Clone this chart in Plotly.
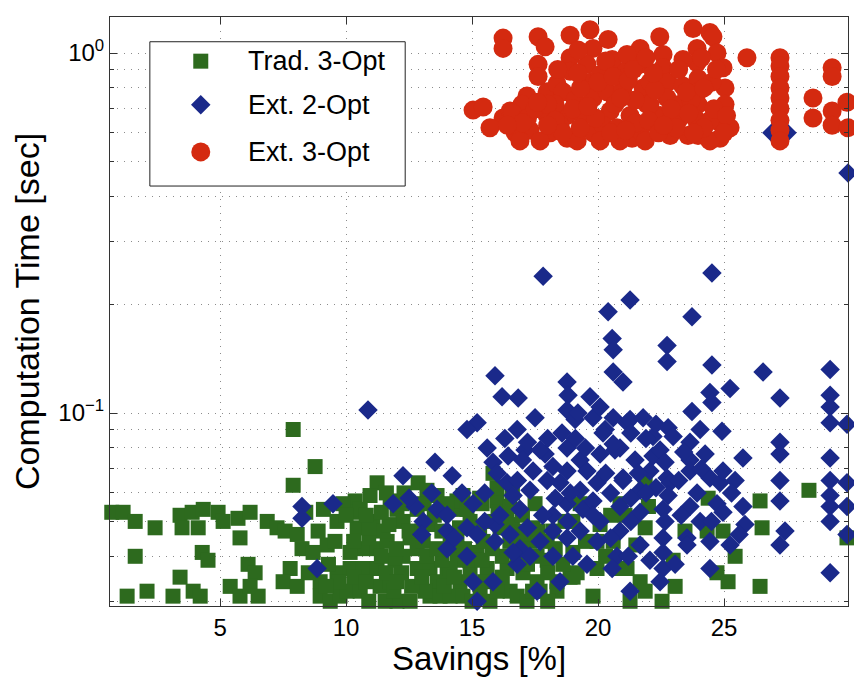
import plotly.graph_objects as go

# Savings [%] vs. computation time [sec] for three local-search variants

trad_x = [0.7, 1.15, 1.63, 2.42, 1.63, 1.31, 2.10, 3.13, 3.41, 3.41, 3.49, 3.89, 4.33, 4.13, 4.29,
          4.52, 3.93, 4.21, 4.92, 5.12, 5.71, 5.79, 6.19, 6.11, 6.39, 5.40, 5.79, 6.19, 6.51, 6.87,
          7.26, 7.58, 7.90, 7.90, 8.77, 7.78, 7.50, 8.06, 8.06, 8.25, 8.69, 9.25, 9.56, 8.89, 9.64,
          8.97, 8.97, 9.37, 9.76, 9.64, 11.23, 12.86, 13.21, 13.61, 10.36, 10.36, 10.44, 10.67, 11.23,
          11.63, 11.07, 11.47, 12.02, 12.26, 10.16, 10.67, 11.23, 10.04, 10.56, 11.35, 11.75, 12.02,
          12.54, 12.26, 12.82, 12.82, 12.54, 13.06, 13.33, 13.61, 13.33, 13.73, 14.13, 14.40, 14.40,
          14.40, 14.64, 14.52, 14.01, 14.52, 14.64, 15.32, 15.99, 16.03, 16.11, 15.20, 15.60, 16.39,
          16.51, 16.79, 17.30, 17.58, 17.58, 16.79, 15.83, 15.99, 16.39, 18.37, 18.37, 17.98, 10.56,
          14.40, 14.13, 14.13, 16.90, 17.42, 19.96, 20.60, 19.96, 20.75, 19.80, 18.89, 19.17, 9.88,
          10.95, 11.75, 12.82, 13.33, 13.85, 14.92, 15.44, 14.92, 15.71, 17.18, 17.70, 17.02, 17.98,
          11.94, 11.55, 10.16, 13.13, 21.87, 20.87, 21.07, 21.87, 26.43, 26.51, 28.37, 29.88, 23.45,
          24.37, 24.33, 24.96, 25.44, 24.72, 25.16, 26.43, 21.15, 21.67, 21.87, 21.27, 22.54, 23.06,
          22.98, 19.96, 19.01, 19.29, 20.08, 18.69, 9.70,
          10.9, 11.9, 12.6, 13.0, 13.9, 14.3, 15.0, 15.5, 16.0, 16.2, 17.4, 18.0, 18.0,
          10.3, 10.8, 11.6, 12.2, 12.0, 13.8, 13.2, 14.9, 15.4, 16.2, 16.8, 17.2, 18.6,
          10.3, 10.9, 11.4, 12.0, 13.6, 14.7, 15.8, 16.5, 17.0, 18.3, 19.0,
          10.9, 11.7, 12.5, 13.0, 13.8, 14.5, 15.3, 15.7, 16.6, 17.6, 18.2,
          10.0, 10.8, 11.4, 12.2, 13.1, 13.5, 14.0, 14.8, 15.4, 16.5, 17.0,
          11.6, 12.3, 15.3, 16.6, 17.5, 8.4, 9.1, 9.3, 8.5, 9.2,
          19.5, 20.3, 21.5, 22.0, 20.5, 19.0]
trad_y = [0.053, 0.053, 0.050, 0.048, 0.040, 0.031, 0.032, 0.031, 0.035, 0.052, 0.048, 0.053, 0.054,
          0.048, 0.041, 0.039, 0.032, 0.031, 0.053, 0.050, 0.051, 0.045, 0.053, 0.038, 0.036, 0.033,
          0.031, 0.033, 0.031, 0.050, 0.048, 0.047, 0.090, 0.063, 0.071, 0.037, 0.034, 0.033, 0.046,
          0.042, 0.041, 0.043, 0.044, 0.047, 0.050, 0.034, 0.031, 0.030, 0.031, 0.036, 0.064, 0.064,
          0.061, 0.059, 0.057, 0.053, 0.048, 0.042, 0.042, 0.044, 0.050, 0.047, 0.054, 0.050, 0.037,
          0.037, 0.037, 0.032, 0.032, 0.033, 0.034, 0.030, 0.030, 0.040, 0.042, 0.037, 0.045, 0.044,
          0.037, 0.034, 0.031, 0.031, 0.031, 0.044, 0.042, 0.039, 0.059, 0.054, 0.036, 0.034, 0.031,
          0.032, 0.057, 0.053, 0.048, 0.041, 0.037, 0.037, 0.032, 0.031, 0.044, 0.040, 0.034, 0.046,
          0.068, 0.062, 0.051, 0.034, 0.032, 0.044, 0.054, 0.057, 0.046, 0.037, 0.047, 0.048, 0.044,
          0.044, 0.037, 0.037, 0.031, 0.035, 0.036, 0.056, 0.059, 0.057, 0.054, 0.049, 0.053, 0.050,
          0.044, 0.036, 0.030, 0.030, 0.032, 0.036, 0.039, 0.039, 0.030, 0.041, 0.032, 0.065, 0.056,
          0.052, 0.048, 0.057, 0.048, 0.061, 0.045, 0.047, 0.058, 0.047, 0.047, 0.040, 0.036, 0.034,
          0.033, 0.037, 0.034, 0.032, 0.030, 0.030, 0.033, 0.039, 0.029, 0.035, 0.056, 0.049, 0.050,
          0.034,
          0.030, 0.032, 0.033, 0.035, 0.033, 0.035, 0.030, 0.034, 0.032, 0.035, 0.032, 0.030, 0.036,
          0.035, 0.034, 0.036, 0.036, 0.034, 0.039, 0.040, 0.039, 0.039, 0.040, 0.039, 0.038, 0.038,
          0.044, 0.045, 0.040, 0.042, 0.042, 0.042, 0.042, 0.044, 0.042, 0.042, 0.041,
          0.048, 0.049, 0.047, 0.047, 0.047, 0.048, 0.048, 0.050, 0.049, 0.047, 0.047,
          0.052, 0.052, 0.053, 0.056, 0.056, 0.052, 0.056, 0.054, 0.056, 0.055, 0.052,
          0.060, 0.060, 0.058, 0.060, 0.056, 0.053, 0.054, 0.038, 0.036, 0.033,
          0.044, 0.040, 0.043, 0.055, 0.052, 0.050]

ext2_x = [17.82, 24.52, 20.40, 21.27, 23.73, 20.56, 20.60, 20.60, 20.99, 22.74, 22.74, 24.52, 26.55,
          29.21, 25.24, 24.44, 24.52, 27.22, 29.21, 29.21, 23.73, 29.21, 29.88, 29.92, 10.87, 15.91,
          16.19, 16.83, 18.77, 18.81, 18.77, 17.50, 16.79, 15.20, 14.80, 18.57, 18.77, 19.68, 19.80,
          20.08, 20.60, 20.87, 21.15, 21.27, 21.79, 22.18, 22.78, 22.98, 24.92, 23.65, 23.65, 23.65,
          25.75, 27.22, 27.22, 29.21, 29.21, 29.21, 29.21, 29.21, 29.88, 29.88, 29.88, 27.22, 27.22,
          27.42, 27.22, 29.21, 20.67, 20.99, 22.18, 22.46, 22.66, 22.74, 22.86, 22.78, 22.58, 22.66,
          22.58, 22.58, 22.58, 22.46, 23.06, 23.53, 23.53, 23.65, 23.93, 24.44, 24.84, 24.96, 24.72,
          24.96, 24.44, 24.44, 25.24, 25.75, 21.67, 20.87, 20.75, 20.56, 13.53, 14.21, 12.26, 15.83,
          16.43, 17.42, 18.21, 18.77, 19.29, 19.56, 20.60, 20.99, 16.39, 16.63, 16.90, 17.30, 17.98,
          18.49, 19.29, 19.96, 18.77, 19.40, 20.08, 18.21, 18.21, 17.70, 18.77, 19.29, 19.96, 19.56,
          18.21, 18.49, 17.58, 16.90, 16.79, 15.04, 15.20, 15.83, 11.87, 12.74, 13.06, 13.61, 14.01,
          14.01, 14.80, 15.04, 15.20, 15.91, 15.91, 20.87, 8.25, 8.25, 9.48, 8.85, 14.01, 16.63,
          19.09, 20.28, 20.08, 21.47, 21.67, 22.06, 17.90, 17.10, 21.67, 22.06, 21.27, 24.05, 24.25,
          25.44, 24.05, 25.83, 26.90, 27.50,
          15.5, 16.0, 16.8, 17.0, 17.7, 18.0, 18.3, 18.9, 19.1, 19.5, 19.8, 20.3, 20.5, 21.3, 21.6,
          21.9, 22.3, 17.2, 17.8, 18.8, 19.8, 20.5, 19.0, 17.3, 16.1, 15.5, 16.5, 21.3, 21.2, 21.9,
          23.3, 23.2, 24.1, 24.5, 25.3, 25.6, 23.4, 22.3, 21.3, 20.2, 19.2, 17.2, 16.3, 15.6, 14.6,
          13.4, 13.0, 12.5, 14.3, 14.8]
ext2_y = [0.240, 0.245, 0.191, 0.206, 0.185, 0.161, 0.150, 0.130, 0.122, 0.154, 0.139, 0.136, 0.130,
          0.132, 0.117, 0.114, 0.107, 0.110, 0.112, 0.104, 0.101, 0.094, 0.093, 0.464, 0.102, 0.127,
          0.111, 0.110, 0.122, 0.112, 0.102, 0.097, 0.090, 0.094, 0.090, 0.088, 0.080, 0.111, 0.097,
          0.104, 0.097, 0.080, 0.094, 0.096, 0.097, 0.086, 0.091, 0.086, 0.089, 0.083, 0.074, 0.069,
          0.075, 0.083, 0.077, 0.075, 0.065, 0.059, 0.055, 0.050, 0.064, 0.055, 0.046, 0.065, 0.057,
          0.047, 0.043, 0.036, 0.079, 0.065, 0.076, 0.079, 0.073, 0.066, 0.064, 0.059, 0.054, 0.050,
          0.045, 0.041, 0.037, 0.034, 0.038, 0.045, 0.043, 0.055, 0.060, 0.066, 0.064, 0.069, 0.056,
          0.053, 0.044, 0.037, 0.043, 0.055, 0.053, 0.047, 0.040, 0.037, 0.073, 0.067, 0.067, 0.073,
          0.076, 0.069, 0.071, 0.069, 0.074, 0.069, 0.082, 0.066, 0.064, 0.059, 0.054, 0.061, 0.065,
          0.064, 0.061, 0.064, 0.056, 0.054, 0.050, 0.052, 0.047, 0.044, 0.045, 0.047, 0.044, 0.038,
          0.040, 0.034, 0.032, 0.042, 0.038, 0.034, 0.030, 0.034, 0.056, 0.055, 0.050, 0.054, 0.052,
          0.042, 0.048, 0.056, 0.046, 0.049, 0.044, 0.055, 0.055, 0.051, 0.056, 0.037, 0.047, 0.041,
          0.096, 0.090, 0.077, 0.074, 0.061, 0.069, 0.077, 0.079, 0.043, 0.039, 0.032, 0.090, 0.077,
          0.065, 0.050, 0.049, 0.600, 0.600,
          0.060, 0.068, 0.065, 0.074, 0.079, 0.085, 0.058, 0.060, 0.085, 0.080, 0.057, 0.068, 0.060,
          0.058, 0.068, 0.085, 0.062, 0.048, 0.052, 0.050, 0.052, 0.045, 0.040, 0.040, 0.052, 0.050,
          0.046, 0.050, 0.040, 0.060, 0.052, 0.065, 0.070, 0.050, 0.060, 0.046, 0.078, 0.093, 0.088,
          0.088, 0.100, 0.083, 0.085, 0.080, 0.060, 0.060, 0.046, 0.058, 0.045, 0.040]

ext3_x = [15.04, 15.44, 16.23, 16.23, 16.23, 16.71, 17.18, 16.98, 17.30, 17.62, 17.90, 17.62, 17.62,
          17.98, 18.37, 17.98, 18.10, 18.89, 18.89, 18.89, 18.61, 18.77, 18.77, 19.68, 20.28, 19.80,
          20.40, 19.56, 19.68, 19.80, 19.40, 19.80, 19.17, 20.36, 20.48, 20.20, 20.75, 20.99, 20.99,
          21.27, 21.35, 21.67, 21.67, 21.79, 21.94, 22.18, 22.45, 22.58, 22.58, 22.78, 22.74, 22.46,
          22.86, 22.06, 22.06, 23.37, 23.25, 23.77, 24.44, 24.56, 23.93, 23.93, 23.97, 23.97, 23.97,
          23.85, 23.97, 24.72, 24.96, 25.04, 25.04, 24.84, 24.84, 24.52, 25.91, 27.22, 27.22, 27.22,
          27.22, 27.22, 27.22, 27.22, 27.22, 27.22, 28.53, 28.53, 29.29, 29.29, 29.29, 29.29, 29.88,
          29.92, 15.71, 16.51, 16.90, 17.70, 18.29, 18.49, 19.09, 19.29, 20.08, 20.67, 20.87, 21.47,
          21.67, 22.26, 21.87, 23.18, 23.57, 23.69, 24.44, 24.44, 25.24, 20.56, 20.08, 21.15, 19.21,
          23.37,
          16.6, 17.2, 17.5, 18.0, 18.3, 18.6, 19.0, 19.3, 19.2, 19.9, 20.0, 20.3, 20.6, 20.9, 21.2,
          21.5, 21.4, 22.0, 22.2, 22.4, 22.9, 23.1, 23.2, 23.5, 23.6, 24.2, 24.2, 24.6, 24.7, 25.1,
          25.0, 18.0, 17.0, 16.4, 17.6, 19.6, 20.5, 21.1, 22.6, 23.8, 18.4, 21.9, 24.1]
ext3_y = [0.694, 0.708, 1.10, 1.03, 0.66, 0.60, 0.76, 0.72, 0.61, 1.11, 1.04, 0.93, 0.86, 0.78, 0.82,
          0.67, 0.60, 1.12, 0.97, 0.89, 0.78, 0.67, 0.58, 1.16, 1.26, 1.03, 1.09, 0.93, 0.83, 0.75,
          0.67, 0.60, 0.57, 0.78, 0.69, 0.63, 0.62, 0.89, 0.80, 0.67, 0.58, 1.03, 0.93, 0.80, 0.72,
          0.64, 1.11, 0.99, 0.91, 0.83, 0.75, 0.67, 0.59, 0.83, 0.72, 0.81, 0.72, 1.17, 1.14, 1.11,
          1.03, 0.94, 0.85, 0.78, 0.72, 0.66, 0.59, 1.00, 0.91, 0.80, 0.72, 0.64, 0.58, 0.83, 0.97,
          0.97, 0.92, 0.86, 0.80, 0.75, 0.70, 0.65, 0.61, 0.57, 0.75, 0.66, 0.91, 0.86, 0.69, 0.63,
          0.73, 0.62, 0.62, 0.69, 0.57, 0.57, 0.72, 0.63, 0.74, 0.62, 0.57, 0.72, 0.57, 0.74, 0.61,
          0.79, 0.57, 0.65, 0.59, 0.74, 0.65, 0.57, 0.62, 0.96, 0.87, 0.99, 1.02, 0.96,
          0.68, 0.66, 0.70, 0.72, 0.65, 0.60, 0.70, 0.80, 0.88, 0.66, 0.83, 0.95, 0.86, 0.75, 0.84,
          0.64, 0.90, 0.65, 0.88, 0.60, 0.70, 0.62, 0.90, 0.78, 0.68, 0.80, 0.62, 0.70, 0.90, 0.67,
          0.60, 0.63, 0.64, 0.63, 0.73, 0.71, 0.60, 0.61, 0.63, 0.60, 0.90, 0.97, 0.97]

series_names = ["Trad. 3-Opt", "Ext. 2-Opt", "Ext. 3-Opt"]
series_colors = ["#2d6a1e", "#1a298a", "#d42a10"]
series_symbols = ["square", "diamond", "circle"]
series_sizes = [15, 15, 19]

x_ticks = [5, 10, 15, 20, 25]
y_ticks = [0.1, 1]
y_ticklabels = ["10<sup>\u22121</sup>", "10<sup>0</sup>"]
y_minor = [0.03, 0.04, 0.05, 0.06, 0.07, 0.08, 0.09, 0.2, 0.3, 0.4, 0.5, 0.6, 0.7, 0.8, 0.9]

FONT = "Liberation Sans, Arial, Helvetica, sans-serif"
GRID = dict(gridcolor="#8c8c8c", gridwidth=1, griddash="1px,6px")

fig = go.Figure()
series = [(trad_x, trad_y), (ext2_x, ext2_y), (ext3_x, ext3_y)]
for (xs, ys), name, color, sym, size in zip(series, series_names, series_colors,
                                            series_symbols, series_sizes):
    fig.add_trace(go.Scatter(
        x=xs, y=ys, mode="markers", name=name, showlegend=False, cliponaxis=False,
        marker=dict(symbol=sym, size=size, color=color, line=dict(width=0)),
    ))

# Legend drawn on an overlay axis spanning the plot area (0..1 in both directions)
box_x = [0.054, 0.400, 0.400, 0.054, 0.054]
box_y = [0.958, 0.958, 0.713, 0.713, 0.958]
fig.add_trace(go.Scatter(
    x=box_x, y=box_y, xaxis="x2", yaxis="y2", mode="lines", fill="toself",
    fillcolor="white", line=dict(color="#222222", width=1), showlegend=False,
    hoverinfo="skip", cliponaxis=False,
))
legend_rows = [0.925, 0.851, 0.771]
for name, color, sym, size, ry in zip(series_names, series_colors, series_symbols,
                                      series_sizes, legend_rows):
    fig.add_trace(go.Scatter(
        x=[0.123], y=[ry], xaxis="x2", yaxis="y2", mode="markers", showlegend=False,
        cliponaxis=False, hoverinfo="skip",
        marker=dict(symbol=sym, size=size, color=color, line=dict(width=0)),
    ))
    fig.add_annotation(
        x=0.184, y=ry, xref="x2", yref="y2", text=name, showarrow=False,
        xanchor="left", yanchor="middle", font=dict(family=FONT, size=27, color="black"),
    )

fig.update_layout(
    width=854, height=677,
    margin=dict(l=110, r=6, t=17, b=71),
    paper_bgcolor="white", plot_bgcolor="white",
    font=dict(family=FONT, color="black"),
    showlegend=False,
    xaxis=dict(
        range=[0.63, 29.92], tickmode="array", tickvals=x_ticks,
        ticks="inside", ticklen=7, tickcolor="#333333", mirror="allticks",
        showline=True, linecolor="#333333", linewidth=1,
        showgrid=True, zeroline=False, tickfont=dict(size=24),
        title=dict(text="Savings [%]", font=dict(size=33), standoff=4),
        **GRID,
    ),
    yaxis=dict(
        type="log", range=[-1.536, 0.1], tickmode="array", tickvals=y_ticks,
        ticktext=y_ticklabels, ticks="inside", ticklen=7, tickcolor="#333333",
        mirror="allticks", showline=True, linecolor="#333333", linewidth=1,
        showgrid=True, zeroline=False, tickfont=dict(size=24),
        minor=dict(tickmode="array", tickvals=y_minor, ticks="inside", ticklen=4,
                   tickcolor="#333333", showgrid=True, **GRID),
        title=dict(text="Computation Time [sec]", font=dict(size=34), standoff=8),
        **GRID,
    ),
    xaxis2=dict(overlaying="x", anchor="y2", range=[0, 1], visible=False),
    yaxis2=dict(overlaying="y", anchor="x2", range=[0, 1], visible=False),
)

fig.write_html("out.html")
